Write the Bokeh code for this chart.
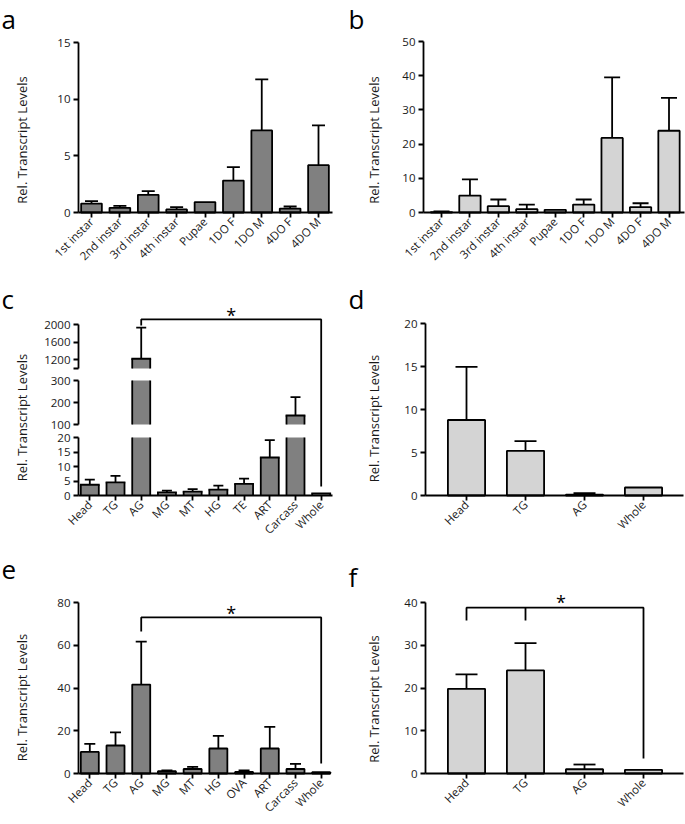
import math
from bokeh.plotting import figure
from bokeh.models import (Range1d, LinearAxis, FixedTicker, ColumnDataSource,
                          Whisker, TeeHead, Grid)
from bokeh.layouts import row, column
from bokeh.core.properties import value
from bokeh.embed import file_html
from bokeh.resources import INLINE

# ---------------- data ----------------
a_cats = ["1st instar", "2nd instar", "3rd instar", "4th instar", "Pupae",
          "1DO F", "1DO M", "4DO F", "4DO M"]
a_vals = [0.79, 0.41, 1.56, 0.27, 0.92, 2.82, 7.24, 0.35, 4.18]
a_errs = [1.0, 0.59, 1.88, 0.47, None, 4.0, 11.74, 0.53, 7.68]

b_cats = ["1st instar", "2nd instar", "3rd instar", "4th instar", "Pupae",
          "1DO F", "1DO M", "4DO F", "4DO M"]
b_vals = [0.12, 4.96, 1.84, 0.97, 0.78, 2.33, 21.8, 1.56, 23.9]
b_errs = [0.3, 9.7, 3.8, 2.33, None, 3.8, 39.5, 2.7, 33.5]

c_cats = ["Head", "TG", "AG", "MG", "MT", "HG", "TE", "ART", "Carcass", "Whole"]
c_vals = [3.7, 4.5, 1222, 1.1, 1.35, 2.05, 4.0, 13.1, 141, 0.7]
c_errs = [5.5, 6.75, 1930, 1.7, 2.2, 3.4, 5.8, 19.1, 224, None]

d_cats = ["Head", "TG", "AG", "Whole"]
d_vals = [8.78, 5.2, 0.1, 0.93]
d_errs = [14.96, 6.32, 0.27, None]

e_cats = ["Head", "TG", "AG", "MG", "MT", "HG", "OVA", "ART", "Carcass", "Whole"]
e_vals = [10.1, 13.1, 41.6, 1.1, 2.1, 11.7, 0.75, 11.7, 2.1, 0.6]
e_errs = [13.9, 19.2, 61.7, 1.5, 3.1, 17.6, 1.4, 21.8, 4.5, None]

f_cats = ["Head", "TG", "AG", "Whole"]
f_vals = [19.8, 24.1, 1.0, 0.85]
f_errs = [23.2, 30.5, 2.1, None]

a_yticks = [0, 5, 10, 15]
b_yticks = [0, 10, 20, 30, 40, 50]
d_yticks = [0, 5, 10, 15, 20]
e_yticks = [0, 20, 40, 60, 80]
f_yticks = [0, 10, 20, 30, 40]

# broken axis of panel c: segment name, low value, high value, ticks
c_segments = [("low", 0, 20, [0, 5, 10, 15, 20]),
              ("mid", 100, 300, [100, 200, 300]),
              ("high", 1000, 2000, [1000, 1200, 1600, 2000])]

# significance brackets (value levels in each panel's y units)
c_bracket = dict(frm="AG", to="Whole", level=60.7, left_end=58.6, right_end=3.1, star_y=62.1)
e_bracket = dict(frm="AG", to="Whole", level=73.0, left_end=66.4, right_end=4.7, star_y=75.3)
f_bracket = dict(frm="Head", mid="TG", to="Whole", level=38.8, left_end=35.8, right_end=3.5,
                 star_x=1.6, star_y=40.2)

Y_TITLE = "Rel. Transcript Levels"

# ---------------- style ----------------
FONT = "Open Sans"
DARK = "#808080"
LIGHT = "#d4d4d4"
LW = 1.8
INK = "#1a1a1a"
TICK_FS = "11.5px"
TITLE_FS = "13px"
LETTER_FS = "26px"
LETTER_SHIFT = -9     # px, compensates the text box anchoring of the renderer
TITLE_SHIFT = -5


class Geo:
    """Linear map between page pixels and data units for one panel canvas."""
    def __init__(self, box, xcal, ycal):
        self.X0, self.Y0, self.W, self.H = box
        (px1, v1), (px2, v2) = xcal
        self.xs = (v2 - v1) / (px2 - px1)
        self.xp, self.xv = px1, v1
        (py1, w1), (py2, w2) = ycal
        self.ys = (w2 - w1) / (py2 - py1)
        self.yp, self.yv = py1, w1

    def x(self, px):
        return self.xv + (px - self.xp) * self.xs

    def y(self, py):
        return self.yv + (py - self.yp) * self.ys

    def xrange(self):
        return Range1d(self.x(self.X0), self.x(self.X0 + self.W))

    def yrange(self):
        return Range1d(self.y(self.Y0 + self.H), self.y(self.Y0))


def make_fig(g):
    p = figure(width=g.W, height=g.H, x_range=g.xrange(), y_range=g.yrange(),
               output_backend="svg", toolbar_location=None, x_axis_location=None,
               y_axis_location=None, min_border=0, title=None)
    p.min_border_left = 0
    p.min_border_right = 0
    p.min_border_top = 0
    p.min_border_bottom = 0
    p.outline_line_color = None
    p.background_fill_color = "white"
    p.border_fill_color = "white"
    for r in list(p.center):
        if isinstance(r, Grid):
            r.grid_line_color = None
            r.visible = False
    return p


def style_axis(ax):
    ax.axis_line_width = LW
    ax.axis_line_color = "black"
    ax.major_tick_line_width = LW
    ax.major_tick_line_color = "black"
    ax.major_tick_in = 0
    ax.major_tick_out = 5
    ax.minor_tick_line_color = None
    ax.major_label_text_font = FONT
    ax.major_label_text_font_size = TICK_FS
    ax.major_label_text_color = INK
    ax.major_label_standoff = 3


def add_xaxis(p, g, cats, x_from, x_to):
    ax = LinearAxis(fixed_location=0, bounds=(g.x(x_from), g.x(x_to)),
                    ticker=FixedTicker(ticks=list(range(len(cats)))))
    style_axis(ax)
    ax.major_label_overrides = {i: c for i, c in enumerate(cats)}
    ax.major_label_orientation = math.pi / 4
    ax.major_label_standoff = 2
    p.add_layout(ax, "below")


def add_yaxis(p, g, axis_px, ticks, range_name="default", overrides=None):
    ax = LinearAxis(fixed_location=g.x(axis_px), bounds=(ticks[0], ticks[-1]),
                    ticker=FixedTicker(ticks=ticks), y_range_name=range_name)
    style_axis(ax)
    if overrides:
        ax.major_label_overrides = overrides
    p.add_layout(ax, "left")


def add_texts(p, g, letter, letter_pos, title_pos):
    # panel letter (left edge, baseline) and rotated y-axis title (centre)
    p.text(x=[g.x(letter_pos[0])], y=[g.y(letter_pos[1] + LETTER_SHIFT)], text=[letter],
           text_font=value(FONT), text_font_size=LETTER_FS, text_color="black",
           text_align="left", text_baseline="alphabetic")
    p.text(x=[g.x(title_pos[0] + TITLE_SHIFT)], y=[g.y(title_pos[1])], text=[Y_TITLE],
           angle=math.pi / 2, text_font=value(FONT), text_font_size=TITLE_FS,
           text_color=INK, text_align="center", text_baseline="middle")


def add_whiskers(p, vals, errs, cap, range_name="default"):
    idx = [i for i, e in enumerate(errs) if e is not None]
    if not idx:
        return
    src = ColumnDataSource(dict(x=idx, lower=[vals[i] for i in idx], upper=[errs[i] for i in idx]))
    w = Whisker(base="x", lower="lower", upper="upper", source=src, dimension="height",
                line_width=LW, line_color="black", y_range_name=range_name,
                upper_head=TeeHead(size=cap, line_width=LW, line_color="black"),
                lower_head=None)
    p.add_layout(w)


def simple_panel(cats, vals, errs, color, g, axis_x, yticks, bw, cap, letter, lpos, tpos):
    p = make_fig(g)
    add_xaxis(p, g, cats, axis_x[0], axis_x[1])
    add_yaxis(p, g, axis_x[0], yticks)
    add_whiskers(p, vals, errs, cap)
    src = ColumnDataSource(dict(x=list(range(len(cats))), top=vals))
    p.vbar(x="x", top="top", bottom=0, width=bw, source=src, fill_color=color,
           line_color="black", line_width=LW)
    add_texts(p, g, letter, lpos, tpos)
    return p


def draw_bracket(p, cats, br):
    i0, i1 = cats.index(br["frm"]), cats.index(br["to"])
    p.line(x=[i0, i0, i1, i1], y=[br["left_end"], br["level"], br["level"], br["right_end"]],
           line_color="black", line_width=LW)
    if "mid" in br:
        im = cats.index(br["mid"])
        p.line(x=[im, im], y=[br["level"], br["left_end"]], line_color="black", line_width=LW)
    sx = br.get("star_x", (i0 + i1) / 2)
    p.text(x=[sx], y=[br["star_y"]], text=["*"], text_font=value(FONT), text_font_size="18px",
           text_align="center", text_baseline="middle", text_color="black")


# ---------------- panel a ----------------
ga = Geo((0, 0, 345, 270), ((91, 0), (318, 8)), ((212, 0), (42, 15)))
pa = simple_panel(a_cats, a_vals, a_errs, DARK, ga, (78, 332), a_yticks, 0.73, 13,
                  "a", (1, 27), (26.5, 139.5))

# ---------------- panel b ----------------
gb = Geo((345, 0, 340, 270), ((441, 0), (668.5, 8)), ((212, 0), (41, 50)))
pb = simple_panel(b_cats, b_vals, b_errs, LIGHT, gb, (423, 684), b_yticks, 0.75, 16,
                  "b", (348, 27), (378.5, 139.5))

# ---------------- panel c (broken axis) ----------------
C_BOX = (0, 270, 345, 275)
C_XCAL = ((89.3, 0), (320.7, 9))
c_ycal = {"low": ((495, 0), (437, 20)),
          "mid": ((424, 100), (380, 300)),
          "high": ((368, 1000), (324, 2000))}
c_geo = {k: Geo(C_BOX, C_XCAL, v) for k, v in c_ycal.items()}
gc = c_geo["low"]
pc = make_fig(gc)
pc.extra_y_ranges = {"mid": c_geo["mid"].yrange(), "high": c_geo["high"].yrange()}
add_xaxis(pc, gc, c_cats, 78, 332)
C_BW = 0.7
for name, lo, hi, ticks in c_segments:
    rn = "default" if name == "low" else name
    add_yaxis(pc, gc, 78, ticks, rn, {1000: ""} if name == "high" else None)
    px, pbot, ptop, tx, ty = [], [], [], [], []
    for i, v in enumerate(c_vals):
        if v > lo:
            px.append(i)
            pbot.append(lo)
            ptop.append(min(v, hi))
            if v <= hi:
                tx.append(i)
                ty.append(v)
    pc.vbar(x=px, bottom=pbot, top=ptop, width=C_BW, fill_color=DARK, line_color=None,
            y_range_name=rn)
    xl = [x - C_BW / 2 for x in px]
    xr = [x + C_BW / 2 for x in px]
    pc.segment(x0=xl, y0=pbot, x1=xl, y1=ptop, line_color="black", line_width=LW, y_range_name=rn)
    pc.segment(x0=xr, y0=pbot, x1=xr, y1=ptop, line_color="black", line_width=LW, y_range_name=rn)
    pc.segment(x0=[x - C_BW / 2 for x in tx], y0=ty, x1=[x + C_BW / 2 for x in tx], y1=ty,
               line_color="black", line_width=LW, line_cap="square", y_range_name=rn)
    errs_seg = [e if (e is not None and lo < c_vals[i] <= hi) else None
                for i, e in enumerate(c_errs)]
    add_whiskers(pc, c_vals, errs_seg, 10, rn)
draw_bracket(pc, c_cats, c_bracket)
add_texts(pc, gc, "c", (1, 307), (26.5, 417))

# ---------------- panel d ----------------
gd = Geo((345, 270, 340, 275), ((466, 0), (643, 3)), ((495, 0), (323, 20)))
pd_ = simple_panel(d_cats, d_vals, d_errs, LIGHT, gd, (425, 683), d_yticks, 0.63, 22,
                   "d", (348, 307), (378.5, 418))

# ---------------- panel e ----------------
ge = Geo((0, 545, 345, 279), ((89.3, 0), (320.7, 9)), ((773, 0), (602, 80)))
pe = simple_panel(e_cats, e_vals, e_errs, DARK, ge, (78, 330), e_yticks, 0.7, 11,
                  "e", (1, 578), (26.5, 697))
draw_bracket(pe, e_cats, e_bracket)

# ---------------- panel f ----------------
gf = Geo((345, 545, 340, 279), ((466, 0), (643, 3)), ((773, 0), (602, 40)))
pf = simple_panel(f_cats, f_vals, f_errs, LIGHT, gf, (425, 683), f_yticks, 0.63, 22,
                  "f", (348, 585), (378.5, 698.5))
draw_bracket(pf, f_cats, f_bracket)

layout = column(row(pa, pb), row(pc, pd_), row(pe, pf))
open("out.html", "w").write(file_html(layout, INLINE))
